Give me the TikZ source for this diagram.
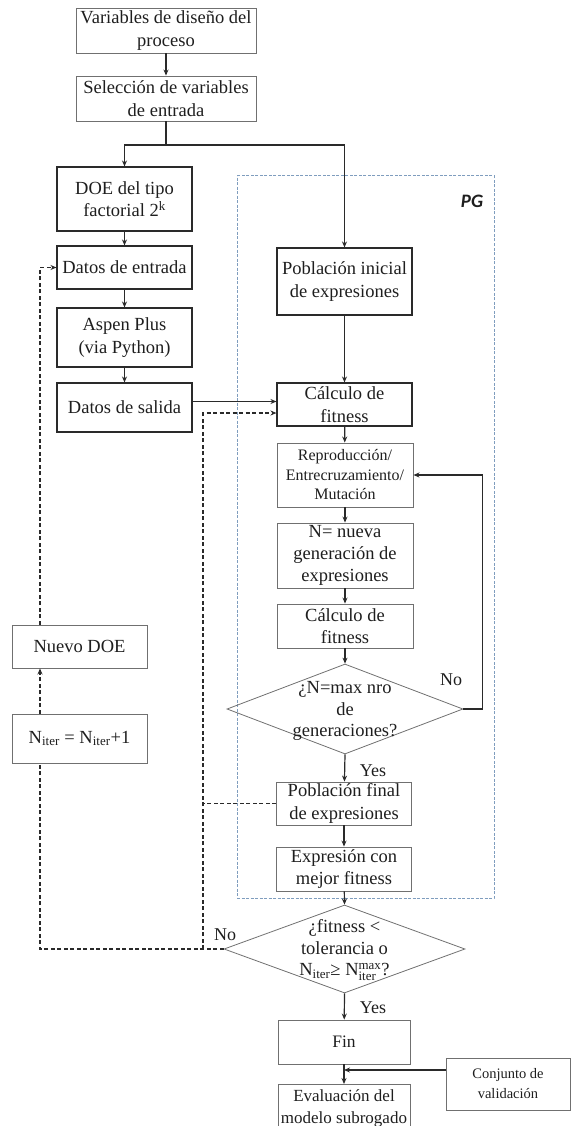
\documentclass[tikz,border=0pt]{standalone}
\usepackage{fontspec}
\setmainfont{Liberation Serif}[Ligatures=TeX]
\newfontfamily\pgfamily{Carlito}
\usetikzlibrary{arrows.meta,shapes.geometric,calc}

\definecolor{ink}{HTML}{1E1E1E}
\definecolor{darkline}{HTML}{2A2A2A}
\definecolor{greyline}{HTML}{707070}
\definecolor{pgblue}{HTML}{7F9DBE}

\newcommand\setfs[2]{\fontsize{#1}{#2}\selectfont}

\tikzset{
  x=1pt, y=-1pt,
  box/.style={draw=greyline, line width=0.9pt, rectangle, align=center,
    inner sep=0pt, text=ink, font=\rmfamily\setfs{18.5}{22.5}},
  darkbox/.style={box, draw=darkline, line width=1.1pt},
  decision/.style={draw=greyline, line width=0.8pt, diamond, inner sep=0pt},
  decisiontext/.style={align=center, inner sep=0pt, text=ink, font=\rmfamily\setfs{18.5}{21.5}},
  lbl/.style={inner sep=0pt, text=ink, font=\rmfamily\setfs{18}{20}},
  link/.style={draw=darkline, line width=1.2pt},
  flow/.style={link, -{Stealth[length=6pt,width=5pt]}},
  dlink/.style={link, dash pattern=on 4pt off 2.5pt},
  dflow/.style={dlink, -{Stealth[length=6pt,width=5pt]}},
}

\begin{document}
\begin{tikzpicture}
\useasboundingbox (0,0) rectangle (571,1126);

% programación genética (PG) frame
\node[draw=pgblue, line width=1pt, dash pattern=on 3pt off 1.5pt,
  minimum width=257pt, minimum height=722pt, inner sep=0pt] (pg) at (365.5,537) {};
\node[inner sep=0pt, text=ink, font=\pgfamily\bfseries\itshape\setfs{19}{20}] (pglabel) at (472,201) {PG};

% left column: design of experiments
\node[box, minimum width=180pt, minimum height=45pt] (top) at (166,30.5) {Variables de diseño del\\proceso};
\node[box, minimum width=180pt, minimum height=45pt] (sel) at (166,98.5) {Selección de variables\\de entrada};
\node[darkbox, minimum width=135pt, minimum height=64pt] (doe) at (124.5,199) {DOE del tipo\\factorial 2\textsuperscript{k}};
\node[darkbox, minimum width=135pt, minimum height=43pt] (din) at (124.5,267.5) {Datos de entrada};
\node[darkbox, minimum width=135pt, minimum height=59pt] (aspen) at (124.5,337.5) {Aspen Plus\\(via Python)};
\node[darkbox, minimum width=135pt, minimum height=49pt] (dout) at (124.5,407.5) {Datos de salida};
\node[box, minimum width=135pt, minimum height=43pt] (ndoe) at (79.5,646.5) {Nuevo DOE};
\node[box, minimum width=135pt, minimum height=49pt] (niter) at (79.5,738.5) {N\textsubscript{iter} = N\textsubscript{iter}+1};

% right column: genetic programming loop
\node[darkbox, minimum width=135pt, minimum height=67pt] (pini) at (344.5,281.5) {Población inicial\\de expresiones};
\node[darkbox, minimum width=135pt, minimum height=43pt] (cf1) at (344.5,404.5) {Cálculo de\\fitness};
\node[box, minimum width=136pt, minimum height=64pt, font=\rmfamily\setfs{16}{19.5}] (rep) at (345,475) {Reproducción/\\Entrecruzamiento/\\Mutación};
\node[box, minimum width=136pt, minimum height=65pt, font=\rmfamily\setfs{18.5}{22}] (nueva) at (345,555.5) {N= nueva\\generación de\\expresiones};
\node[box, minimum width=136pt, minimum height=44pt] (cf2) at (345,626) {Cálculo de\\fitness};
\node[decision, minimum width=236pt, minimum height=90pt] (d1) at (345,709) {};
\node[decisiontext] (d1t) at (345,711) {¿N=max nro\\de\\generaciones?};
\node[box, minimum width=135pt, minimum height=43pt] (pfin) at (344,803.5) {Población final\\de expresiones};
\node[box, minimum width=135pt, minimum height=44pt] (expr) at (344,869) {Expresión con\\mejor fitness};
\node[decision, minimum width=241pt, minimum height=88pt] (d2) at (344.5,949) {};
\node[decisiontext] (d2t) at (344.5,950) {¿fitness <\\tolerancia o\\N\textsubscript{iter}≥ N$^{\mathrm{max}}_{\mathrm{iter}}$?};
\node[box, minimum width=132pt, minimum height=44pt, font=\rmfamily\setfs{17.5}{21}] (fin) at (344,1042) {Fin};
\node[box, minimum width=132pt, minimum height=50pt, anchor=north, font=\rmfamily\setfs{17}{22}] (eval) at (344,1084) {\rule{0pt}{15pt}Evaluación del\\modelo subrogado\rule[-8pt]{0pt}{8pt}};
\node[box, minimum width=124pt, minimum height=52pt, font=\rmfamily\setfs{14.5}{20}] (conj) at (508,1084) {Conjunto de\\validación};

% branch labels
\node[lbl] (no1) at (451,680) {No};
\node[lbl] (yes1) at (373,771) {Yes};
\node[lbl] (no2) at (225,935) {No};
\node[lbl] (yes2) at (373,1008) {Yes};

% main solid connectors
\coordinate (j) at (166,145);
\draw[flow] (top) -- (sel);
\draw[link] (sel) -- (j);
\draw[flow] (j) -| (doe);
\draw[flow] (j) -| (pini);
\draw[flow] (doe) -- (din);
\draw[flow] (din) -- (aspen);
\draw[flow] (aspen) -- (dout);
\coordinate (sin) at ([yshift=3pt]cf1.west);
\draw[flow] (sin -| dout.east) -- (sin);
\draw[flow] (pini) -- (cf1);
\draw[flow] (cf1) -- (rep);
\draw[flow] (rep) -- (nueva);
\draw[flow] (nueva) -- (cf2);
\draw[flow] (cf2) -- (d1.north);
\draw[flow] (d1.east) -- ++(19,0) |- (rep.east);
\draw[flow] (d1.south) -- (pfin);
\draw[flow] (pfin) -- (expr);
\draw[flow] (expr) -- (d2.north);
\draw[flow] (d2.south) -- (fin);
\draw[flow] (fin) -- (eval);
\coordinate (cv) at ([yshift=14pt]conj.west);
\draw[flow] (cv) -- (cv -| fin.south);

% dashed connectors: new iteration and re-evaluation
\coordinate (nl) at (40,949);
\draw[dlink] (d2.west) -- (nl) -- (nl |- niter.south);
\draw[dflow] (niter.north -| nl) -- (ndoe.south -| nl);
\draw[dflow] (ndoe.north -| nl) -- (din.west -| nl) -- (din.west);
\coordinate (fb) at (203,949);
\coordinate (sdash) at ([yshift=-8.5pt]cf1.west);
\draw[dlink] (pfin.west) -- (pfin.west -| fb);
\draw[dflow] (fb) -- (fb |- sdash) -- (sdash);
\end{tikzpicture}
\end{document}
